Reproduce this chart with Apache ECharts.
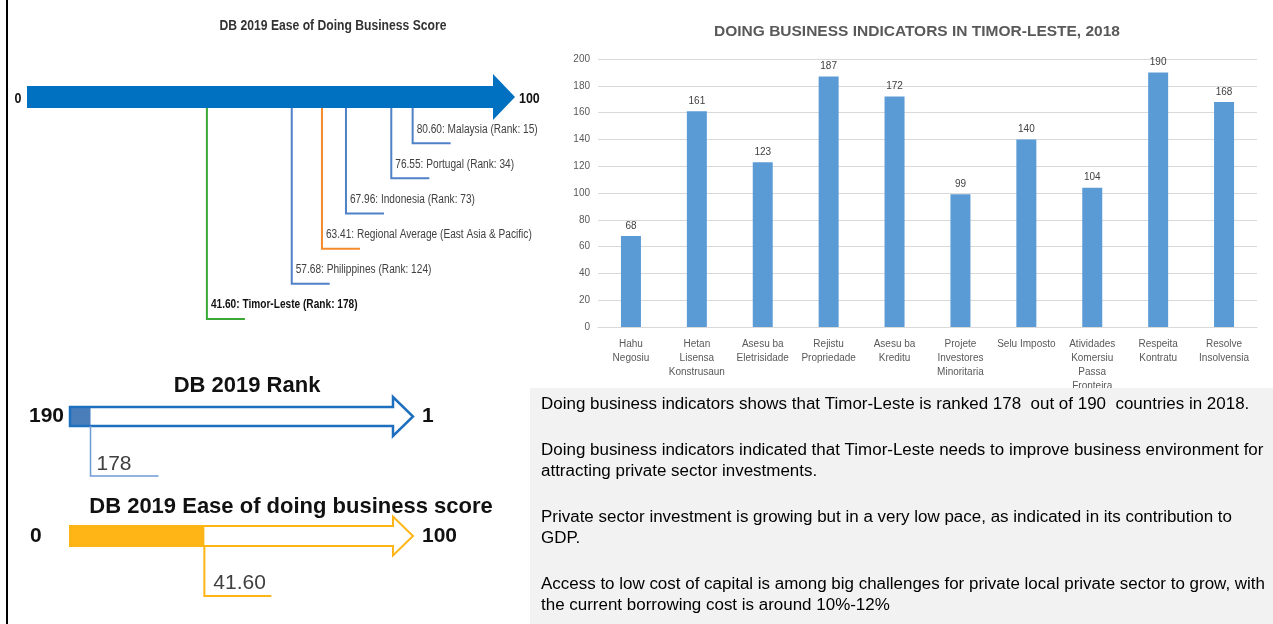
<!DOCTYPE html>
<html>
<head>
<meta charset="utf-8">
<script src="https://cdn.jsdelivr.net/npm/echarts@6/dist/echarts.min.js"></script>
<style>
html,body{margin:0;padding:0;background:#fff;}
#main{width:1273px;height:624px;}
</style>
</head>
<body>
<div id="main"></div>
<script>
// bar chart data
var categories = ['Hahu\nNegosiu', 'Hetan\nLisensa\nKonstrusaun', 'Asesu ba\nEletrisidade', 'Rejistu\nPropriedade', 'Asesu ba\nKreditu',
    'Projete\nInvestores\nMinoritaria', 'Selu Imposto', 'Atividades\nKomersiu\nPassa\nFronteira', 'Respeita\nKontratu', 'Resolve\nInsolvensia'];
var ranks = [68, 161, 123, 187, 172, 99, 140, 104, 190, 168];

// ease of doing business score (top left)
var scoreNames = ['Malaysia (Rank: 15)', 'Portugal (Rank: 34)', 'Indonesia (Rank: 73)',
    'Regional Average (East Asia & Pacific)', 'Philippines (Rank: 124)', 'Timor-Leste (Rank: 178)'];
var scoreValues = [80.60, 76.55, 67.96, 63.41, 57.68, 41.60];
var scoreColors = ['#4F81C7', '#4F81C7', '#4F81C7', '#F58A2A', '#4F81C7', '#3AA935'];

// DB 2019 rank / score (bottom left)
var rankEnds = [190, 1];
var tlRank = 178;
var scoreEnds = [0, 100];
var tlScore = 41.60;

var notes = [
    'Doing business indicators shows that Timor-Leste is ranked 178  out of 190  countries in 2018.',
    '',
    'Doing business indicators indicated that Timor-Leste needs to improve business environment for',
    'attracting private sector investments.',
    '',
    'Private sector investment is growing but in a very low pace, as indicated in its contribution to',
    'GDP.',
    '',
    'Access to low cost of capital is among big challenges for private local private sector to grow, with',
    'the current borrowing cost is around 10%-12%'
];

var arial = "'Liberation Sans', Arial, sans-serif";
var NARROW = 0.83; // 窄字体

var myChart = echarts.init(document.getElementById('main'));

// 箭头形状
function arrowPts(x0, x1, yc, half, headHalf, headLen) {
    return [[x0, yc - half], [x1, yc - half], [x1, yc - headHalf], [x1 + headLen, yc],
        [x1, yc + headHalf], [x1, yc + half], [x0, yc + half]];
}
function txt(text, x, y, font, fill, align, sx) {
    return {type: 'text', x: x, y: y, scaleX: sx || 1,
        style: {text: text, x: 0, y: 0, font: font, fill: fill, align: align || 'left', verticalAlign: 'middle'}};
}

var graphics = [
    {type: 'line', shape: {x1: 7, y1: 0, x2: 7, y2: 624}, style: {stroke: '#000', lineWidth: 2}},
    txt('DB 2019 Ease of Doing Business Score', 333, 26, 'bold 15px ' + arial, '#333', 'center', 0.81),
    txt('DOING BUSINESS INDICATORS IN TIMOR-LESTE, 2018', 917, 32, 'bold 15.5px ' + arial, '#595959', 'center', 1),
    txt('DB 2019 Rank', 247, 386, 'bold 22px ' + arial, '#111', 'center', 1),
    txt('DB 2019 Ease of doing business score', 291, 507, 'bold 22px ' + arial, '#111', 'center', 1),
    {type: 'rect', z: 100, shape: {x: 530, y: 388, width: 760, height: 240}, style: {fill: '#F2F2F2'}}
];
var ny = 405;
for (var i = 0; i < notes.length; i++) {
    if (notes[i]) {
        var t = txt(notes[i], 541, ny, '16px ' + arial, '#000', 'left', 1.06);
        t.z = 101;
        graphics.push(t);
        ny += 21.5;
    } else {
        ny += 24;
    }
}

var option = {
    animation: false,
    graphic: graphics,
    grid: [
        {left: 27, top: 108, width: 488, height: 211},
        {left: 70, top: 426, width: 323, height: 50},
        {left: 70, top: 546, width: 323, height: 50},
        {left: 598, right: 16, top: 59, bottom: 297}
    ],
    xAxis: [
        {gridIndex: 0, type: 'value', min: 7.5, max: 100, show: false},
        {gridIndex: 1, type: 'value', min: 1, max: 190, inverse: true, show: false},
        {gridIndex: 2, type: 'value', min: 0, max: 100, show: false},
        {gridIndex: 3, type: 'category', data: categories,
            axisLine: {lineStyle: {color: '#D9D9D9'}}, axisTick: {show: false},
            axisLabel: {interval: 0, fontSize: 10, color: '#595959', lineHeight: 14, margin: 10, fontFamily: arial}}
    ],
    yAxis: [
        {gridIndex: 0, type: 'value', min: 0, max: 6, inverse: true, show: false},
        {gridIndex: 1, type: 'value', min: 0, max: 1, inverse: true, show: false},
        {gridIndex: 2, type: 'value', min: 0, max: 1, inverse: true, show: false},
        {gridIndex: 3, type: 'value', min: 0, max: 200, interval: 20,
            axisLine: {show: false}, axisTick: {show: false},
            axisLabel: {fontSize: 10, color: '#595959', margin: 8, fontFamily: arial},
            splitLine: {lineStyle: {color: '#D9D9D9'}}}
    ],
    series: [
        // top arrow
        {
            type: 'custom', xAxisIndex: 0, yAxisIndex: 0, data: [[100, 0]],
            renderItem: function (params, api) {
                var tip = api.coord([api.value(0), api.value(1)]);
                var x0 = params.coordSys.x;
                var yc = tip[1] - 11;
                return {type: 'group', children: [
                    {type: 'polygon', shape: {points: arrowPts(x0, tip[0] - 22, yc, 11, 23, 22)}, style: {fill: '#0070C0'}},
                    txt('0', x0 - 9, yc + 2, 'bold 15px ' + arial, '#111', 'center', NARROW),
                    txt('100', tip[0] + 4, yc + 2, 'bold 15px ' + arial, '#111', 'left', NARROW)
                ]};
            }
        },
        // score leaders
        {
            type: 'custom', xAxisIndex: 0, yAxisIndex: 0,
            data: scoreValues.map(function (v, i) { return [v, i + 1, i]; }),
            renderItem: function (params, api) {
                var idx = api.value(2);
                var top = api.coord([api.value(0), 0]);
                var end = api.coord([api.value(0), api.value(1)]);
                var last = idx === scoreValues.length - 1;
                return {type: 'group', children: [
                    {type: 'polyline', shape: {points: [top, end, [end[0] + 38, end[1]]]}, style: {stroke: scoreColors[idx], lineWidth: 2, fill: null}},
                    txt(scoreValues[idx].toFixed(2) + ': ' + scoreNames[idx], end[0] + 4, end[1] - 14,
                        (last ? 'bold ' : '') + '12.5px ' + arial, last ? '#111' : '#404040', 'left', 0.81)
                ]};
            }
        },
        // rank arrow
        {
            type: 'custom', xAxisIndex: 1, yAxisIndex: 1, data: [[tlRank, 1]],
            renderItem: function (params, api) {
                var s = api.coord([rankEnds[0], 0]);
                var e = api.coord([rankEnds[1], 0]);
                var p = api.coord([api.value(0), 0]);
                var q = api.coord([api.value(0), api.value(1)]);
                var yc = s[1] - 9.5;
                return {type: 'group', children: [
                    {type: 'rect', shape: {x: s[0], y: yc - 9.5, width: p[0] - s[0], height: 19}, style: {fill: '#4A7EBB'}},
                    {type: 'polygon', shape: {points: arrowPts(s[0], e[0], yc, 9.5, 19.5, 20)}, style: {fill: null, stroke: '#1F6FBF', lineWidth: 2.5}},
                    {type: 'polyline', shape: {points: [p, q, [q[0] + 68, q[1]]]}, style: {stroke: '#6D9BD6', lineWidth: 1.5, fill: null}},
                    txt(String(tlRank), q[0] + 6, q[1] - 12, '21px ' + arial, '#404040'),
                    txt(String(rankEnds[0]), s[0] - 6, yc, 'bold 21px ' + arial, '#111', 'right'),
                    txt(String(rankEnds[1]), e[0] + 29, yc, 'bold 21px ' + arial, '#111')
                ]};
            }
        },
        // score arrow
        {
            type: 'custom', xAxisIndex: 2, yAxisIndex: 2, data: [[tlScore, 1]],
            renderItem: function (params, api) {
                var s = api.coord([scoreEnds[0], 0]);
                var e = api.coord([scoreEnds[1], 0]);
                var p = api.coord([api.value(0), 0]);
                var q = api.coord([api.value(0), api.value(1)]);
                var yc = s[1] - 10;
                return {type: 'group', children: [
                    {type: 'rect', shape: {x: s[0], y: yc - 10, width: p[0] - s[0], height: 20}, style: {fill: '#FFB515'}},
                    {type: 'polygon', shape: {points: arrowPts(s[0], e[0], yc, 10, 19.5, 20)}, style: {fill: null, stroke: '#FFB515', lineWidth: 2}},
                    {type: 'polyline', shape: {points: [p, q, [q[0] + 67, q[1]]]}, style: {stroke: '#FFB515', lineWidth: 2, fill: null}},
                    txt(tlScore.toFixed(2), q[0] + 9, q[1] - 13, '21px ' + arial, '#404040'),
                    txt(String(scoreEnds[0]), s[0] - 40, yc, 'bold 21px ' + arial, '#111'),
                    txt(String(scoreEnds[1]), e[0] + 29, yc, 'bold 21px ' + arial, '#111')
                ]};
            }
        },
        // 柱状图
        {
            type: 'bar', xAxisIndex: 3, yAxisIndex: 3, data: ranks, barWidth: 20,
            itemStyle: {color: '#5B9BD5'},
            label: {show: true, position: 'top', distance: 5, fontSize: 10, color: '#404040', fontFamily: arial}
        }
    ]
};
myChart.setOption(option);
</script>
</body>
</html>
